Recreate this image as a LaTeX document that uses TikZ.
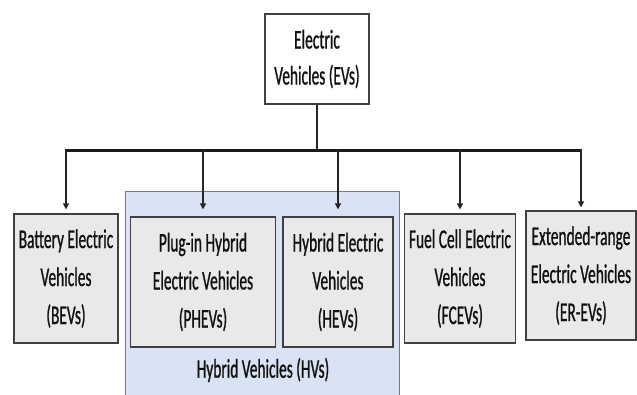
\documentclass[tikz,border=0pt]{standalone}
\usepackage{fontspec}
\newfontfamily\calfont[FakeStretch=0.57,FakeBold=0.8]{Carlito}
\usetikzlibrary{arrows.meta}
\definecolor{boxgray}{HTML}{E9E9E9}
\definecolor{hvblue}{HTML}{DAE3F3}
\definecolor{edge}{HTML}{404040}
\definecolor{txt}{HTML}{111111}
\tikzset{
  catbox/.style={draw=edge, line width=1.2pt, fill=boxgray, inner sep=0pt, align=center,
    text=txt, font=\calfont\fontsize{27}{38}\selectfont},
  topbox/.style={catbox, fill=white},
  link/.style={line width=1.5pt, draw=black!85},
  arr/.style={link, -{Triangle[length=6pt,width=6pt]}, shorten >=4pt},
  bus/.style={line width=3pt, draw=black!90}
}
\begin{document}
\begin{tikzpicture}[x=1pt,y=-1pt]
\useasboundingbox (0,0) rectangle (637,394);
% hybrid region
\path[fill=hvblue, draw=edge!70, line width=0.8pt] (125,191) rectangle (399,398);
\node[text=txt, font=\calfont\fontsize{27}{38}\selectfont] (hvlabel) at (263,370) {Hybrid Vehicles (HVs)};
% top node
\node[topbox, minimum width=104pt, minimum height=90pt, font=\calfont\fontsize{27}{36}\selectfont] (ev) at (317,59) {Electric\\Vehicles (EVs)};
% category boxes
\node[catbox, minimum width=104pt, minimum height=129pt] (bev) at (66,278.5) {Battery Electric\\Vehicles\\(BEVs)};
\node[catbox, minimum width=145pt, minimum height=130pt] (phev) at (203,282) {Plug-in Hybrid\\Electric Vehicles\\(PHEVs)};
\node[catbox, minimum width=110pt, minimum height=130pt] (hev) at (338,282) {Hybrid Electric\\Vehicles\\(HEVs)};
\node[catbox, minimum width=111pt, minimum height=129pt] (fcev) at (460,278.5) {Fuel Cell Electric\\Vehicles\\(FCEVs)};
\node[catbox, minimum width=110pt, minimum height=129pt] (erev) at (581,275.5) {Extended-range\\Electric Vehicles\\(ER-EVs)};
% bus
\coordinate (busL) at (66,150);
\coordinate (busR) at (581,150);
\draw[link] (ev.south) -- (ev.south |- busL);
\draw[bus] ([xshift=-1pt]busL) -- ([xshift=1pt]busR);
\draw[arr] (bev.north |- busL) -- (bev.north);
\draw[arr, shorten >=7pt] (phev.north |- busL) -- (phev.north);
\draw[arr, shorten >=7pt] (hev.north |- busL) -- (hev.north);
\draw[arr] (fcev.north |- busL) -- (fcev.north);
\draw[arr, shorten >=3pt] (erev.north |- busL) -- (erev.north);
\end{tikzpicture}
\end{document}
